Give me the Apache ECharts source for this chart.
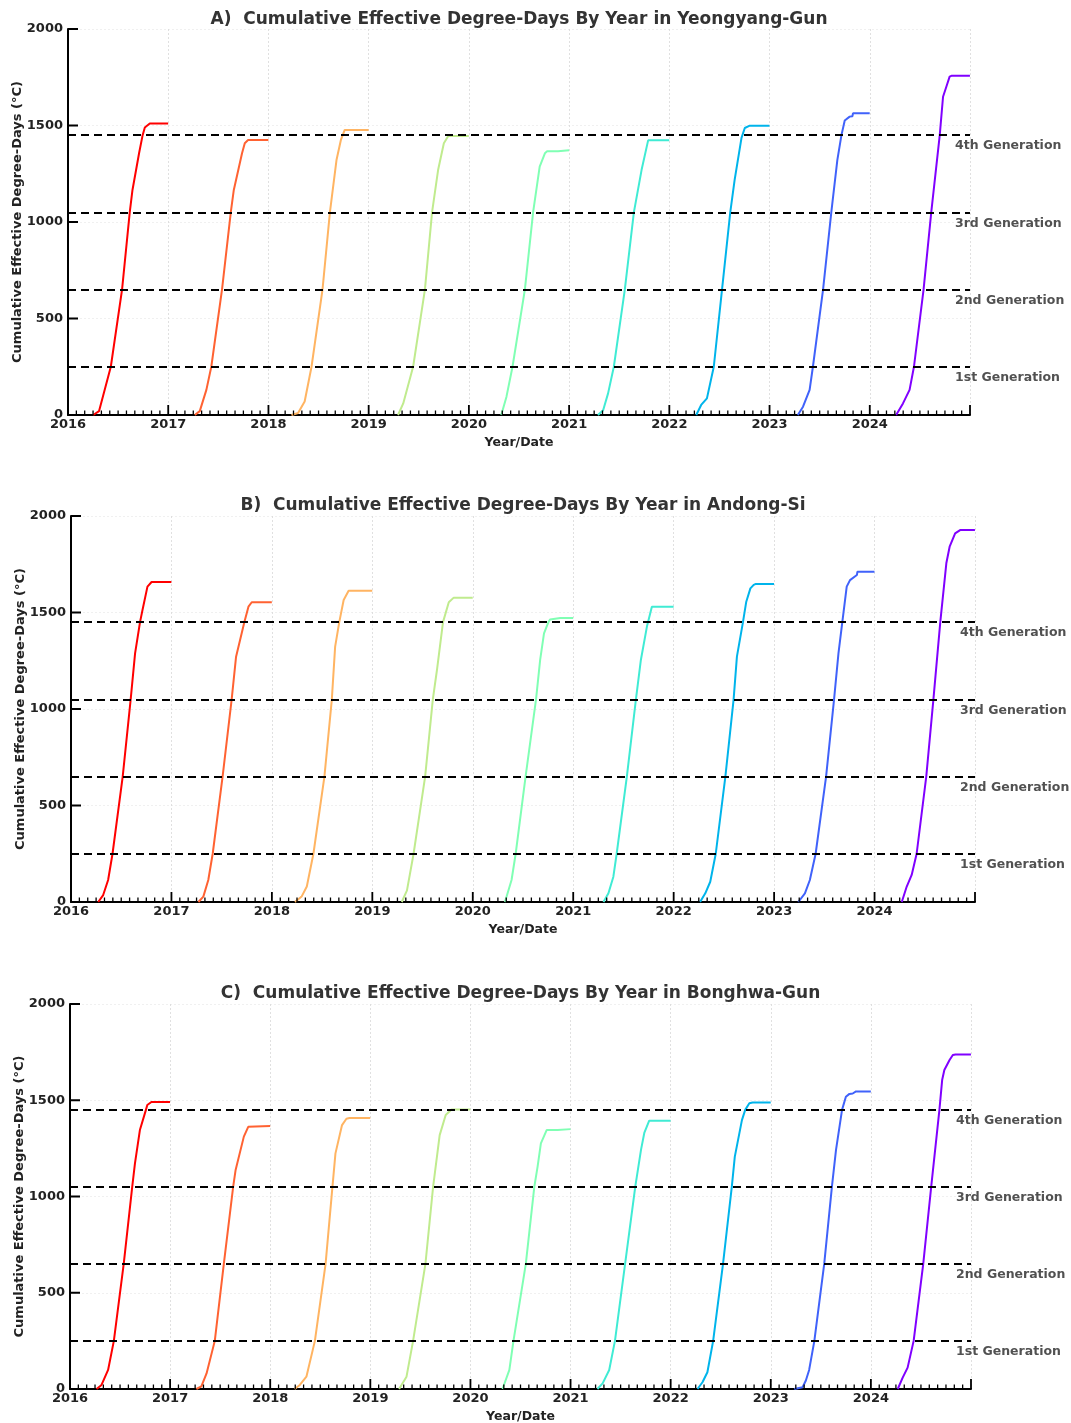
<!DOCTYPE html>
<html>
<head>
<meta charset="utf-8">
<script src="https://cdn.jsdelivr.net/npm/echarts@6/dist/echarts.min.js"></script>
<style>html,body{margin:0;padding:0;background:#fff}#c{width:1071px;height:1423px}</style>
</head>
<body>
<div id="c"></div>
<script>
const years = [2016, 2017, 2018, 2019, 2020, 2021, 2022, 2023, 2024];
const yearColors = ['#ff0000', '#ff6232', '#ffb462', '#c0eb8e', '#80ffb4', '#40ebd4', '#00b4eb', '#4062fa', '#8000ff'];
const yTickValues = [0, 500, 1000, 1500, 2000];
const genValues = [250, 650, 1050, 1450];
const genNames = ['1st Generation', '2nd Generation', '3rd Generation', '4th Generation'];
const panelTitles = [
  'A)  Cumulative Effective Degree-Days By Year in Yeongyang-Gun',
  'B)  Cumulative Effective Degree-Days By Year in Andong-Si',
  'C)  Cumulative Effective Degree-Days By Year in Bonghwa-Gun'
];

// each curve: [day of year, cumulative effective degree-days]
const yeongyang = [
  [[93,0],[114,20],[129,100],[157,250],[198,650],[226,1050],[236,1166],[260,1356],[273,1450],[281,1490],[299,1510],[366,1510]],
  [[98,0],[116,20],[140,130],[158,250],[197,650],[229,1050],[240,1166],[270,1356],[280,1408],[292,1425],[366,1425]],
  [[85,0],[109,10],[133,70],[158,250],[198,650],[225,1050],[249,1321],[265,1425],[279,1477],[366,1477]],
  [[108,0],[127,60],[163,250],[206,650],[232,1050],[254,1269],[275,1408],[291,1446],[366,1446]],
  [[119,0],[138,95],[160,250],[205,650],[235,1050],[259,1287],[278,1356],[286,1366],[326,1366],[328,1372],[366,1372]],
  [[106,0],[125,25],[143,112],[164,250],[204,650],[237,1050],[265,1269],[289,1423],[366,1423]],
  [[99,0],[117,52],[138,86],[163,250],[193,650],[223,1050],[239,1218],[264,1436],[276,1487],[294,1499],[366,1499]],
  [[104,0],[123,43],[147,130],[159,250],[196,650],[226,1050],[248,1321],[263,1450],[275,1526],[293,1546],[303,1548],[305,1563],[366,1563]],
  [[97,0],[122,60],[146,130],[162,250],[197,650],[225,1050],[256,1450],[268,1649],[280,1701],[292,1753],[300,1758],[366,1758]]
];
const andong = [
  [[100,0],[118,36],[136,114],[152,250],[189,650],[218,1050],[234,1288],[252,1450],[261,1513],[279,1634],[294,1658],[366,1658]],
  [[99,0],[117,28],[135,114],[151,250],[187,650],[220,1050],[236,1271],[266,1450],[281,1530],[293,1553],[366,1553]],
  [[85,0],[109,28],[128,80],[152,250],[192,650],[219,1050],[231,1323],[246,1450],[262,1565],[280,1613],[366,1613]],
  [[108,0],[127,60],[151,250],[193,650],[221,1050],[236,1202],[258,1450],[279,1553],[297,1577],[366,1577]],
  [[118,0],[142,114],[157,250],[193,650],[231,1050],[246,1254],[260,1392],[276,1450],[282,1464],[319,1471],[366,1471]],
  [[111,0],[129,45],[147,131],[159,250],[196,650],[229,1050],[247,1254],[269,1427],[287,1530],[366,1530]],
  [[97,0],[116,45],[134,105],[154,250],[189,650],[219,1050],[231,1271],[253,1450],[265,1556],[280,1625],[292,1643],[300,1648],[366,1648]],
  [[89,0],[113,45],[131,114],[152,250],[190,650],[219,1050],[235,1288],[249,1450],[265,1634],[277,1668],[302,1694],[304,1711],[366,1711]],
  [[100,0],[118,80],[136,140],[154,250],[189,650],[215,1050],[240,1450],[262,1755],[274,1841],[294,1910],[312,1927],[366,1927]]
];
const bonghwa = [
  [[98,0],[116,21],[140,99],[161,250],[197,650],[228,1050],[238,1172],[256,1345],[278,1450],[283,1475],[298,1491],[366,1491]],
  [[97,0],[115,14],[134,81],[164,250],[197,650],[231,1050],[240,1138],[270,1311],[286,1362],[292,1366],[366,1366]],
  [[90,0],[109,21],[133,64],[164,250],[203,650],[228,1050],[239,1224],[263,1371],[279,1404],[290,1408],[366,1408]],
  [[106,0],[133,64],[157,250],[202,650],[230,1050],[254,1319],[276,1423],[297,1452],[366,1452]],
  [[118,0],[143,99],[158,250],[203,650],[234,1050],[246,1155],[258,1276],[279,1345],[319,1345],[321,1350],[366,1350]],
  [[99,0],[118,29],[142,99],[163,250],[200,650],[237,1050],[258,1242],[270,1330],[288,1394],[366,1394]],
  [[99,0],[117,35],[135,87],[156,250],[192,650],[224,1050],[235,1207],[261,1397],[273,1450],[288,1484],[300,1488],[366,1488]],
  [[87,0],[117,9],[129,44],[141,99],[160,250],[196,650],[224,1050],[239,1242],[261,1450],[275,1518],[288,1533],[300,1535],[312,1546],[366,1546]],
  [[99,0],[117,59],[135,111],[157,250],[192,650],[221,1050],[251,1450],[261,1605],[269,1657],[288,1709],[300,1735],[310,1738],[366,1738]]
];
const panels = [yeongyang, andong, bonghwa];

const FONT = 'DejaVu Sans';
const X_MIN = 2016, X_MAX = 2025, Y_MAX = 2000;
const grids = [
  {left: 68, top: 29, width: 902, height: 386, outerBoundsMode: 'none', containLabel: false},
  {left: 71, top: 516, width: 904, height: 386, outerBoundsMode: 'none', containLabel: false},
  {left: 70, top: 1004, width: 901, height: 385, outerBoundsMode: 'none', containLabel: false}
];
const titleTops = [6, 492, 980];

// tick marks as short line segments, lengths given in pixels and converted per grid
function tickSegments(g, kindMajor) {
  const pxPerYear = g.width / (X_MAX - X_MIN), pxPerUnit = g.height / Y_MAX;
  const segs = [];
  if (kindMajor) {
    years.concat([X_MAX]).forEach(yr => {
      if (yr > X_MIN) segs.push([yr, 0], [yr, 10 / pxPerUnit], [yr, '-']);
    });
    yTickValues.forEach(v => {
      if (v > 0) segs.push([X_MIN, v], [X_MIN + 10 / pxPerYear, v], ['-', '-']);
    });
  } else {
    years.forEach(yr => {
      for (let m = 1; m < 12; m++) segs.push([yr + m / 12, 0], [yr + m / 12, 4.5 / pxPerUnit], [yr + m / 12, '-']);
    });
  }
  return segs;
}

const chart = echarts.init(document.getElementById('c'), null, {renderer: 'canvas'});

const option = {
  animation: false,
  backgroundColor: '#fff',
  title: panelTitles.map((t, i) => ({
    text: t,
    left: grids[i].left + grids[i].width / 2 - 5,
    top: titleTops[i],
    textAlign: 'center',
    textStyle: {fontFamily: FONT, fontWeight: 'bold', fontSize: 17, color: '#333'}
  })),
  grid: grids,
  xAxis: grids.map((g, i) => ({
    gridIndex: i, type: 'value', min: X_MIN, max: X_MAX, interval: 1,
    axisLine: {show: true, onZero: false, lineStyle: {color: '#000', width: 2}},
    axisTick: {show: false},
    axisLabel: {formatter: v => (v === X_MAX ? '' : String(v)), fontFamily: FONT, fontWeight: 'bold', fontSize: 13, color: '#222', margin: 3},
    splitLine: {show: true, lineStyle: {color: '#d8d8d8', type: [2, 2], width: 0.8}},
    name: 'Year/Date', nameLocation: 'middle', nameGap: 21, nameMoveOverlap: false,
    nameTextStyle: {fontFamily: FONT, fontWeight: 'bold', fontSize: 12.5, color: '#222'}
  })),
  yAxis: grids.map((g, i) => ({
    gridIndex: i, type: 'value', min: yTickValues[0], max: Y_MAX, interval: 500,
    axisLine: {show: true, onZero: false, lineStyle: {color: '#000', width: 2}},
    axisTick: {show: false},
    axisLabel: {formatter: v => String(v), fontFamily: FONT, fontWeight: 'bold', fontSize: 13, color: '#222', margin: 5},
    splitLine: {show: true, lineStyle: {color: '#ececec', type: [2, 2], width: 0.8}},
    name: 'Cumulative Effective Degree-Days (°C)', nameLocation: 'middle', nameGap: 44, nameRotate: 90, nameMoveOverlap: false,
    nameTextStyle: {fontFamily: FONT, fontWeight: 'bold', fontSize: 13, color: '#222'}
  })),
  series: []
};

panels.forEach((curves, p) => {
  curves.forEach((curve, k) => {
    const yr = years[k];
    option.series.push({
      type: 'line', xAxisIndex: p, yAxisIndex: p, name: String(yr),
      data: curve.map(([d, v]) => [yr + (d - 1) / 365.25, v]),
      showSymbol: false, symbol: 'none', silent: true, z: 2,
      color: yearColors[k],
      lineStyle: {width: 2, color: yearColors[k]}
    });
  });
  [true, false].forEach(major => {
    option.series.push({
      type: 'line', xAxisIndex: p, yAxisIndex: p, silent: true, z: 6,
      data: tickSegments(grids[p], major), connectNulls: false,
      showSymbol: false, symbol: 'none', clip: false,
      lineStyle: {color: '#000', width: major ? 1.8 : 1.3, cap: 'butt'}
    });
  });
  option.series.push({
    type: 'scatter', xAxisIndex: p, yAxisIndex: p, silent: true, z: 5,
    symbolSize: 0,
    data: genValues.map((v, j) => ({value: [X_MAX, v], name: genNames[j]})),
    label: {show: true, position: 'right', distance: 0, offset: [-15, 11], formatter: '{b}',
      fontFamily: FONT, fontWeight: 'bold', fontSize: 12.5, color: '#262626'},
    markLine: {
      silent: true, symbol: 'none', label: {show: false},
      lineStyle: {color: '#000', width: 2, type: [8, 5]},
      data: genValues.map(v => ({yAxis: v}))
    }
  });
});

chart.setOption(option);
</script>
</body>
</html>
